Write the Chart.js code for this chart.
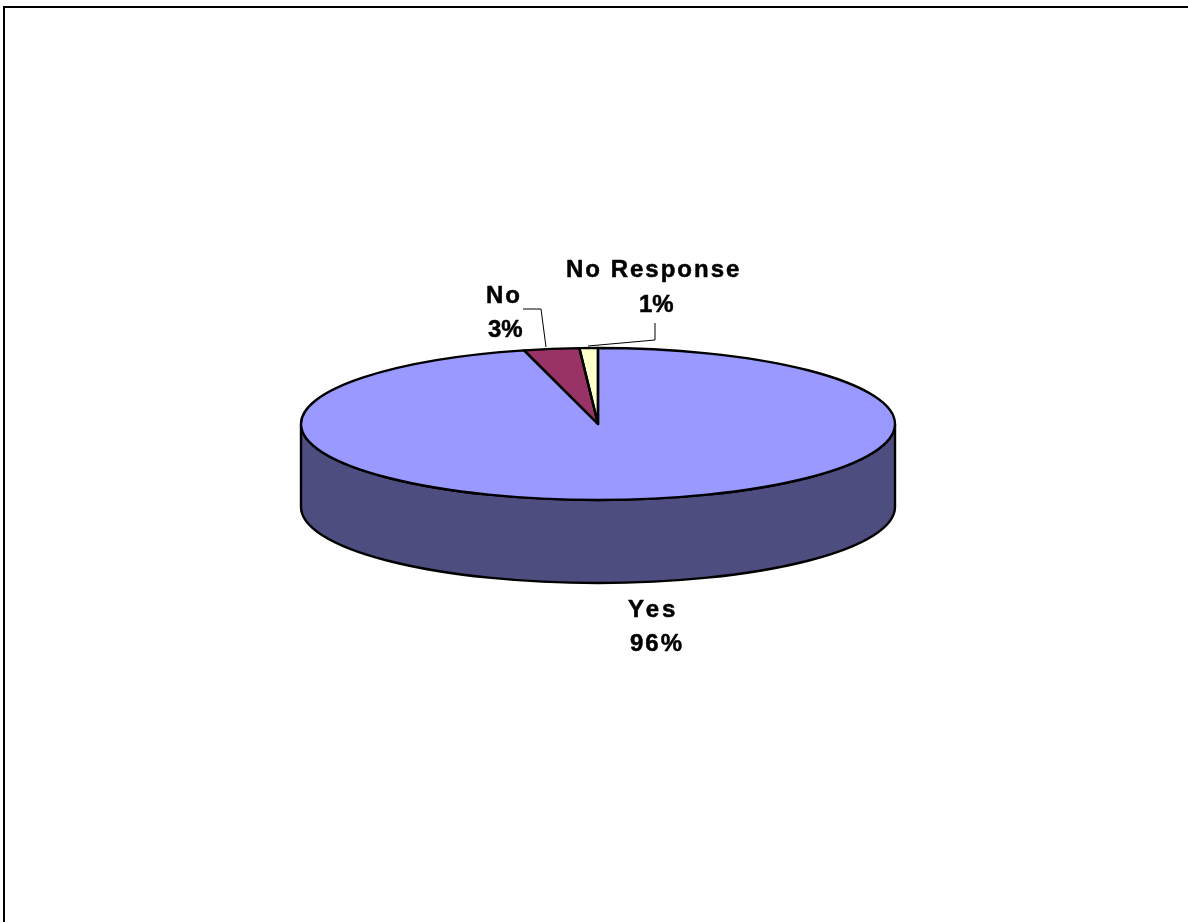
<!DOCTYPE html>
<html>
<head>
<meta charset="utf-8">
<title>Pie chart</title>
<script src="https://cdn.jsdelivr.net/npm/chart.js@4"></script>
<style>
  body { margin: 0; background: #fff; overflow: hidden; }
  #frame { position: absolute; left: 3px; top: 6px; width: 1185px; height: 916px; border-top: 2px solid #000; border-left: 2px solid #000; }
  canvas { position: absolute; left: 0; top: 0; }
</style>
</head>
<body>
<canvas id="myChart" width="1188" height="922"></canvas>
<div id="frame"></div>
<script>
const categories = ["Yes", "No", "No Response"];
const percents = [96, 3, 1];
const topColors = ["#9999FF", "#993366", "#FFFFCC"];
const wallColors = ["#4D4D80", "#4D1A33", "#808066"];

// tilt of the fake 3D pie
const squash = 76 / 297;
const wallDepth = 83;

// where the labels go: [x of name, baseline of name, x of value, baseline of value]
const labelSpots = [
  [628, 617, 630, 651],
  [486, 303, 488, 337],
  [566, 277, 639, 312],
];
const nameSpacing = ["3px", "2px", "2px"];
const leaders = [
  null,
  [[523, 309], [541, 309], [546, 347]],
  [[588, 346], [655, 340], [655, 323]],
];

function arcPath(ctx, arc) {
  ctx.beginPath();
  ctx.moveTo(arc.x, arc.y);
  ctx.arc(arc.x, arc.y, arc.outerRadius, arc.startAngle, arc.endAngle);
  ctx.closePath();
}

function drawWall(ctx, arc, color) {
  // only the front half of the pie shows a wall
  const a0 = Math.max(arc.startAngle, 0);
  const a1 = Math.min(arc.endAngle, Math.PI);
  if (a1 <= a0) return;
  const rx = arc.outerRadius;
  const ry = rx * squash;
  ctx.beginPath();
  ctx.ellipse(arc.x, arc.y, rx, ry, 0, a0, a1);
  ctx.ellipse(arc.x, arc.y + wallDepth, rx, ry, 0, a1, a0, true);
  ctx.closePath();
  ctx.fillStyle = color;
  ctx.fill();
  ctx.strokeStyle = "#000";
  ctx.lineWidth = 2.4;
  ctx.stroke();
}

const tiltPlugin = {
  id: "tilt",
  beforeDatasetsDraw(chart) {
    const ctx = chart.ctx;
    const arcs = chart.getDatasetMeta(0).data;
    arcs.forEach((arc, i) => drawWall(ctx, arc, wallColors[i]));
    ctx.save();
    ctx.translate(arcs[0].x, arcs[0].y);
    ctx.scale(1, squash);
    ctx.translate(-arcs[0].x, -arcs[0].y);
  },
  afterDatasetsDraw(chart) {
    const ctx = chart.ctx;
    ctx.restore();
    // outline after the restore so the pen is not squashed too
    chart.getDatasetMeta(0).data.forEach((arc) => {
      ctx.save();
      ctx.translate(arc.x, arc.y);
      ctx.scale(1, squash);
      ctx.translate(-arc.x, -arc.y);
      arcPath(ctx, arc);
      ctx.restore();
      ctx.strokeStyle = "#000";
      ctx.lineWidth = 2.4;
      ctx.lineJoin = "round";
      ctx.stroke();
    });
  },
};

function heavyText(ctx, text, x, y) {
  // the original text is a bit fatter than plain bold
  ctx.fillText(text, x, y);
  ctx.strokeText(text, x, y);
}

const labelPlugin = {
  id: "pieLabels",
  afterDraw(chart) {
    const ctx = chart.ctx;
    ctx.save();
    ctx.fillStyle = "#000";
    ctx.strokeStyle = "#000";
    ctx.lineWidth = 0.5;
    ctx.font = "bold 24px 'Liberation Sans'";
    ctx.textAlign = "left";
    ctx.textBaseline = "alphabetic";
    categories.forEach((name, i) => {
      const spot = labelSpots[i];
      ctx.letterSpacing = nameSpacing[i];
      heavyText(ctx, name, spot[0], spot[1]);
      ctx.letterSpacing = i === 0 ? "2px" : "0px";
      heavyText(ctx, percents[i] + "%", spot[2], spot[3]);
    });
    ctx.lineWidth = 1;
    leaders.forEach((line) => {
      if (!line) return;
      ctx.beginPath();
      line.forEach((p, j) => (j ? ctx.lineTo(p[0], p[1]) : ctx.moveTo(p[0], p[1])));
      ctx.stroke();
    });
    ctx.restore();
  },
};

const chart = new Chart(document.querySelector("#myChart"), {
  type: "pie",
  data: {
    labels: categories,
    datasets: [{
      data: percents,
      backgroundColor: topColors,
      borderWidth: 0,
    }],
  },
  options: {
    responsive: false,
    animation: false,
    layout: { padding: { left: 301, right: 293, top: 127, bottom: 201 } },
    plugins: { legend: { display: false }, tooltip: { enabled: false } },
  },
  plugins: [tiltPlugin, labelPlugin],
});
</script>
</body>
</html>
